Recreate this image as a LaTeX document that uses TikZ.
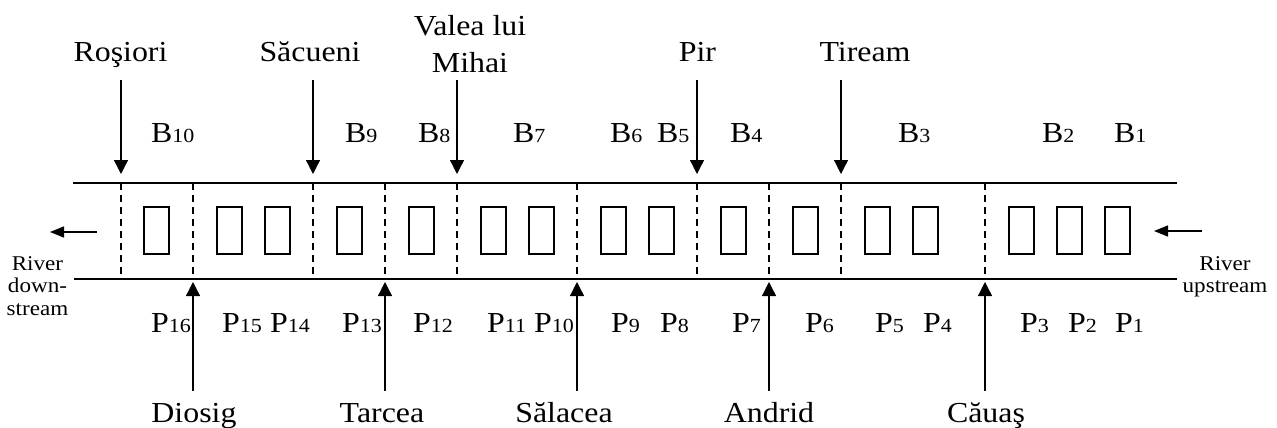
\documentclass[tikz,border=0pt]{standalone}
\usepackage{fontspec}
\setmainfont{Liberation Serif}[FakeStretch=1.1]
\usetikzlibrary{arrows.meta}
\newcommand\lbsb[1]{{\fontsize{20}{21}\selectfont #1}}
\tikzset{
  lbl/.style={inner sep=0pt, font=\fontsize{29}{36.5}\selectfont},
  place/.style={lbl, anchor=base},
  idx/.style={lbl, anchor=base west},
  small/.style={inner sep=0pt, anchor=base, font=\fontsize{21}{22.5}\selectfont},
  bank/.style={line width=1.5pt},
  cut/.style={line width=1.3pt, dash pattern=on 7pt off 5pt},
  pier/.style={draw, line width=1.3pt, minimum width=25pt, minimum height=47pt, inner sep=0pt},
  inarr/.style={line width=1.3pt, -{Triangle[length=14pt,width=14pt]}},
  flow/.style={line width=1.3pt, -{Triangle[length=14pt,width=11pt]}}
}
\begin{document}
\begin{tikzpicture}[x=1pt,y=-1pt]
\useasboundingbox (0,0) rectangle (1277,428);
% banks
\coordinate (tl) at (73,183); \coordinate (tr) at (1177,183);
\coordinate (bl) at (74,279); \coordinate (br) at (1177,279);
\draw[bank] (tl) -- (tr);
\draw[bank] (bl) -- (br);
% section cuts
\foreach \x [count=\i] in {121,193,313,385,457,577,697,769,841,985}{
  \coordinate (ct\i) at (\x,183); \coordinate (cb\i) at (\x,279);
  \draw[cut] (ct\i) -- (cb\i);
}
% piers
\foreach \x [count=\i] in {156.5,229.5,277.5,349.5,421.5,493.5,541.5,613.5,661.5,733.5,805.5,877.5,925.5,1021.5,1069.5,1117.5}{
  \node[pier] (pier\i) at (\x,230.5) {};
}
% top places
\node[place] (ros) at (120.5,62) {Roşiori};
\node[place] (sac) at (310,62) {Săcueni};
\node[place] (val) at (470,36) {Valea lui};
\node[place] (mih) at (470,73) {Mihai};
\node[place] (pir) at (697.5,62) {Pir};
\node[place] (tir) at (865,62) {Tiream};
\foreach \x [count=\i] in {121,313,457,697,841}{
  \coordinate (ts\i) at (\x,80); \coordinate (te\i) at (\x,174);
  \draw[inarr] (ts\i) -- (te\i);
}
% bottom places
\node[place] (dio) at (194,422) {Diosig};
\node[place] (tar) at (382,422) {Tarcea};
\node[place] (sal) at (564,422) {Sălacea};
\node[place] (and) at (769,422) {Andrid};
\node[place] (cau) at (986,422) {Căuaş};
\foreach \x [count=\i] in {193,385,577,769,985}{
  \coordinate (bs\i) at (\x,391); \coordinate (be\i) at (\x,282);
  \draw[inarr] (bs\i) -- (be\i);
}
% B labels
\foreach \x/\n in {151/10,345/9,418/8,513/7,610/6,657/5,730/4,898/3,1042/2,1114/1}{
  \node[idx] (B\n) at (\x,142) {B\lbsb{\n}};
}
% P labels
\foreach \x/\n in {151/16,222/15,270/14,342/13,413/12,487/11,534/10,611/9,660/8,732/7,805/6,875/5,923/4,1020/3,1068/2,1115/1}{
  \node[idx] (P\n) at (\x,332.5) {P\lbsb{\n}};
}
% river flow
\coordinate (ls) at (97,232); \coordinate (le) at (50,232);
\draw[flow] (ls) -- (le);
\coordinate (rs) at (1202,231); \coordinate (re) at (1154,231);
\draw[flow] (rs) -- (re);
\node[small] (dn1) at (37.5,270) {River};
\node[small] (dn2) at (37.5,292.5) {down-};
\node[small] (dn3) at (37.5,315) {stream};
\node[small] (up1) at (1225,270) {River};
\node[small] (up2) at (1225,292.5) {upstream};
\end{tikzpicture}
\end{document}
